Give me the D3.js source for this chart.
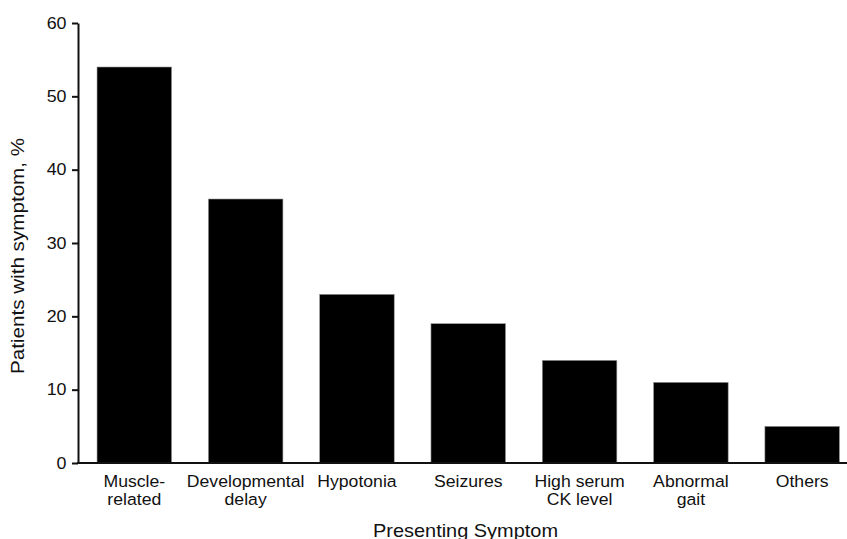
<!DOCTYPE html>
<html><head><meta charset="utf-8">
<script src="https://cdn.jsdelivr.net/npm/d3@7"></script>
<style>body{margin:0;background:#fff}svg{display:block}text{font-family:"Liberation Sans",Arial,sans-serif;fill:#111}</style>
</head><body><svg id="c" width="847" height="539"></svg>
<script>
const categories = [["Muscle-","related"],["Developmental","delay"],["Hypotonia"],["Seizures"],["High serum","CK level"],["Abnormal","gait"],["Others"]];
const values = [54, 36, 23, 19, 14, 11, 5];
const yTicks = [0, 10, 20, 30, 40, 50, 60];

const svg = d3.select("#c");
const x0 = 78, yTop = 23, yBot = 463;
const x = d3.scaleBand().domain(d3.range(categories.length)).range([x0, 858.5]).paddingInner(0.33).paddingOuter(0.171);
const y = d3.scaleLinear().domain([0, 60]).range([yBot, yTop]);

svg.selectAll("rect.bar").data(values).join("rect")
  .attr("class","bar")
  .attr("x",(d,i)=>x(i)).attr("width",x.bandwidth())
  .attr("y",d=>y(d)).attr("height",d=>yBot-y(d))
  .attr("fill","#000").attr("stroke","#999").attr("stroke-width",0.6);

// y axis
const ya = svg.append("g").attr("transform",`translate(${x0},0)`)
  .call(d3.axisLeft(y).tickValues(yTicks).tickSize(6).tickSizeOuter(0).tickFormat(""));
ya.select(".domain").attr("stroke","#111").attr("stroke-width",2);
ya.selectAll(".tick line").attr("stroke","#111").attr("stroke-width",2);
svg.selectAll("text.yt").data(yTicks).join("text").attr("class","yt")
  .attr("text-anchor","end").style("font-size","17px")
  .attr("transform",d=>`translate(66.5,${y(d)+5.5}) scale(1.05,1)`).text(d=>d);

// x axis line
svg.append("line").attr("x1",x0-1).attr("x2",847).attr("y1",yBot).attr("y2",yBot).attr("stroke","#111").attr("stroke-width",2);

// category labels
const lab = svg.selectAll("text.cat").data(categories).join("text")
  .attr("class","cat").attr("text-anchor","middle").style("font-size","16.5px")
  .attr("transform",(d,i)=>`translate(${x(i)+x.bandwidth()/2},487) scale(1.07,1)`);
lab.selectAll("tspan").data(d=>d).join("tspan").attr("x",0).attr("y",(d,j)=>j*18.5).text(d=>d);

svg.append("text").attr("transform","translate(465.5,536.5) scale(1.05,1)").attr("text-anchor","middle").style("font-size","19px").text("Presenting Symptom");
svg.append("text").attr("transform","translate(24,256) rotate(-90) scale(1.18,1)").attr("text-anchor","middle").style("font-size","17.5px").text("Patients with symptom, %");
</script></body></html>
